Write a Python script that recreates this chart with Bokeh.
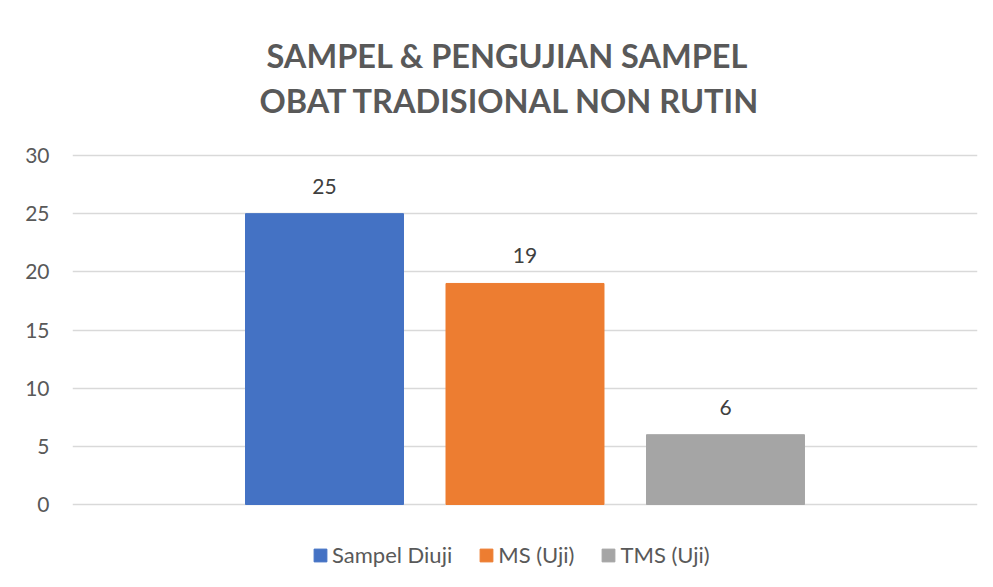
from bokeh.plotting import figure
from bokeh.models import (FactorRange, Range1d, ColumnDataSource, Legend, LegendItem,
                          LabelSet, Title, FixedTicker)
from bokeh.core.properties import value
from bokeh.embed import file_html
from bokeh.resources import INLINE

title_lines = ["SAMPEL & PENGUJIAN SAMPEL", "OBAT TRADISIONAL NON RUTIN"]
series = ["Sampel Diuji", "MS (Uji)", "TMS (Uji)"]
values = [25, 19, 6]
colors = ["#4472C4", "#ED7D31", "#A5A5A5"]
y_ticks = [0, 5, 10, 15, 20, 25, 30]

FONT = "Lato"
TXT = "#595959"

src = ColumnDataSource(dict(series=series, value=values, color=colors,
                            label=[str(v) for v in values]))

# frame extends below zero to hold the legend (legend in frame is clipped otherwise)
p = figure(width=985, height=579, output_backend="svg", toolbar_location=None,
           x_range=FactorRange(factors=series, range_padding=0.5046,
                               range_padding_units="percent"),
           y_range=Range1d(-6.447, 30.172),
           min_border_left=72, min_border_right=8, min_border_top=153,
           min_border_bottom=0, title=None)
p.outline_line_color = None
p.background_fill_color = "white"
p.border_fill_color = "white"

r = p.vbar(x="series", top="value", width=0.788, color="color", source=src)

labels = LabelSet(x="series", y="value", text="label", source=src, y_offset=20,
                  text_align="center", text_baseline="alphabetic",
                  text_font=value(FONT), text_font_size=value("21px"),
                  text_color=value("#404040"))
p.add_layout(labels)

p.xaxis.visible = False
p.xgrid.grid_line_color = None

ticker = FixedTicker(ticks=y_ticks)
ya = p.yaxis[0]
ya.ticker = ticker
p.ygrid[0].ticker = ticker
p.ygrid.grid_line_color = "#D9D9D9"
p.ygrid.grid_line_width = 1.5
ya.axis_line_color = None
ya.major_tick_line_color = None
ya.minor_tick_line_color = None
ya.major_tick_in = 0
ya.major_tick_out = 0
ya.major_label_standoff = 23
ya.major_label_text_font = FONT
ya.major_label_text_font_size = "21px"
ya.major_label_text_color = TXT

# spacer between the title lines and the plot frame
spacer = Title(text=" ", align="center", text_font=FONT, text_font_size="10px",
               text_color="white", standoff=18)
t2 = Title(text=title_lines[1], align="left", text_font=FONT, text_font_size="32.5px",
           text_font_style="bold", text_color=TXT, standoff=4, offset=187)
t1 = Title(text=title_lines[0], align="left", text_font=FONT, text_font_size="32.5px",
           text_font_style="bold", text_color=TXT, standoff=4, offset=194)
p.add_layout(spacer, "above")
p.add_layout(t2, "above")
p.add_layout(t1, "above")

items = [LegendItem(label=s, renderers=[r], index=i) for i, s in enumerate(series)]
legend = Legend(items=items, orientation="horizontal", location=(240, 11),
                label_text_font=FONT, label_text_font_size="22px", label_text_color=TXT,
                glyph_width=16, glyph_height=16, label_standoff=4, spacing=26,
                border_line_color=None, background_fill_alpha=0, margin=0, padding=6)
p.add_layout(legend)

open("out.html", "w").write(file_html(p, INLINE))
